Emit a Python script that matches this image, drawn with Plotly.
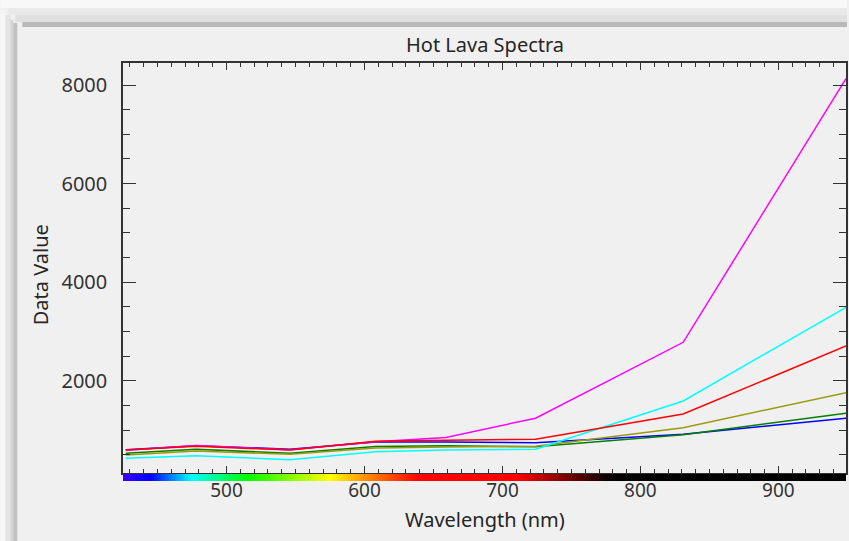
import numpy as np
import plotly.graph_objects as go

# ---------------- data ----------------
wavelength = [427, 478, 546, 608, 659, 724, 831, 949]
magenta_vals = [590, 685, 600, 760, 850, 1240, 2780, 8130]
cyan_vals = [426, 479, 398, 560, 595, 609, 1589, 3490]
red_vals = [595, 670, 595, 770, 790, 812, 1325, 2705]
olive_vals = [493, 574, 507, 635, 655, 672, 1047, 1757]
green_vals = [527, 609, 527, 665, 682, 660, 905, 1339]
blue_vals = [600, 680, 612, 755, 755, 743, 915, 1238]

x_ticks = [500, 600, 700, 800, 900]
y_ticks = [2000, 4000, 6000, 8000]

# spectrum colour bar stops (wavelength, colour)
spec_wl = [425, 445, 475, 515, 575, 605, 640, 710, 780, 949]
spec_col = ["#3a00ff", "#0000ff", "#00ffff", "#00ff00", "#ffff00",
            "#ff8000", "#ff0000", "#ff0000", "#000000", "#000000"]

# ---------------- geometry ----------------
W, H = 849, 541
L, R, T, B = 123, 1, 63, 60
PW = W - L - R
PH = H - T - B
BAR_TOP = 473  # pixel row of main x axis line


def px(xp):
    return (xp - L) / PW


def py(yp):
    return (H - B - yp) / PH


fig = go.Figure()

series = [
    ("Blue", blue_vals, "#0000ff"),
    ("Green", green_vals, "#008000"),
    ("Olive", olive_vals, "#9a9a10"),
    ("Cyan", cyan_vals, "#00ffff"),
    ("Magenta", magenta_vals, "#ff00ff"),
    ("Red", red_vals, "#ff0000"),
]
for name, vals, col in series:
    fig.add_trace(go.Scatter(x=wavelength, y=vals, mode="lines", name=name,
                             line=dict(color=col, width=1.5),
                             xaxis="x", yaxis="y"))

# spectrum bar
lo, hi = spec_wl[0], spec_wl[-1]
cscale = [[(w - lo) / (hi - lo), c] for w, c in zip(spec_wl, spec_col)]
bar_x = np.arange(lo, hi + 1)
fig.add_trace(go.Heatmap(x=bar_x, y=[0], z=[bar_x], colorscale=cscale,
                         zmin=lo, zmax=hi, showscale=False, hoverinfo="skip",
                         xaxis="x2", yaxis="y2"))

main_bottom = py(BAR_TOP)
font_family = "Noto Sans, Open Sans, sans-serif"
axis_col = "#333333"
text_col = "#262626"

fig.update_layout(
    width=W, height=H,
    margin=dict(l=L, r=R, t=T, b=B, pad=0),
    paper_bgcolor="#f0f0f0",
    plot_bgcolor="#f0f0f0",
    showlegend=False,
    font=dict(family=font_family, color=axis_col, size=20),
    xaxis=dict(
        range=[425, 949], anchor="y", domain=[0, 1],
        showgrid=False, zeroline=False,
        showline=True, linecolor=axis_col, linewidth=1.5, mirror="allticks",
        ticks="inside", ticklen=7, tickwidth=1.2, tickcolor=axis_col,
        tickvals=x_ticks, showticklabels=False,
        minor=dict(ticks="inside", ticklen=4, tickwidth=1, tickcolor=axis_col,
                   dtick=10, tick0=0, showgrid=False),
    ),
    yaxis=dict(
        range=[128, 8447], domain=[main_bottom, 1], anchor="x",
        showgrid=False, zeroline=False,
        showline=True, linecolor=axis_col, linewidth=1.5, mirror="allticks",
        ticks="inside", ticklen=13, tickwidth=1.2, tickcolor=axis_col,
        tickvals=y_ticks, ticktext=[str(v) for v in y_ticks],
        tickfont=dict(size=20, color=axis_col), ticklabelstandoff=10,
        minor=dict(ticks="inside", ticklen=7, tickwidth=1, tickcolor=axis_col,
                   dtick=500, tick0=0, showgrid=False),
    ),
    xaxis2=dict(
        matches="x", anchor="y2", domain=[0, 1],
        showgrid=False, zeroline=False, showline=False, ticks="",
        tickvals=x_ticks, ticktext=[str(v) for v in x_ticks],
        tickfont=dict(size=19, color=axis_col), ticklabelstandoff=-4,
    ),
    yaxis2=dict(domain=[0, py(BAR_TOP + 1)], anchor="x2", visible=False,
                range=[-0.5, 0.5]),
)

# window frame (screenshot border)
frame_top = [(0, 8, "#f8f8f8"), (8, 15, "#e9e9e9"), (15, 22, "#e0e0e0"), (22, 27, "#b9b9b9")]
frame_left = [(0, 5, "#f6f6f6"), (5, 10, "#e4e4e4"), (10, 13, "#d4d4d4"), (13, 17, "#c2c2c2")]
shapes = []
for y0, y1, c in frame_top:
    shapes.append(dict(type="rect", xref="paper", yref="paper", layer="below",
                       x0=px(max(0, y0)), x1=px(W), y0=py(y0), y1=py(y1),
                       fillcolor=c, line=dict(width=0)))
for x0, x1, c in frame_left:
    shapes.append(dict(type="rect", xref="paper", yref="paper", layer="below",
                       x0=px(x0), x1=px(x1), y0=py(x0 + 10), y1=py(H),
                       fillcolor=c, line=dict(width=0)))
fig.update_layout(shapes=shapes)

fig.add_annotation(text="Hot Lava Spectra", xref="paper", yref="paper",
                   x=px(486), y=py(44), showarrow=False,
                   xanchor="center", yanchor="middle",
                   font=dict(size=20, color=text_col))
fig.add_annotation(text="Wavelength (nm)", xref="paper", yref="paper",
                   x=px(486), y=py(519), showarrow=False,
                   xanchor="center", yanchor="middle",
                   font=dict(size=20, color=text_col))
fig.add_annotation(text="Data Value", xref="paper", yref="paper",
                   x=px(40), y=py(275), showarrow=False, textangle=-90,
                   xanchor="center", yanchor="middle",
                   font=dict(size=20, color=text_col))

fig.write_html("out.html",
               config={"displayModeBar": False},
               post_script="document.body.style.margin='0';document.body.style.overflow='hidden';")
